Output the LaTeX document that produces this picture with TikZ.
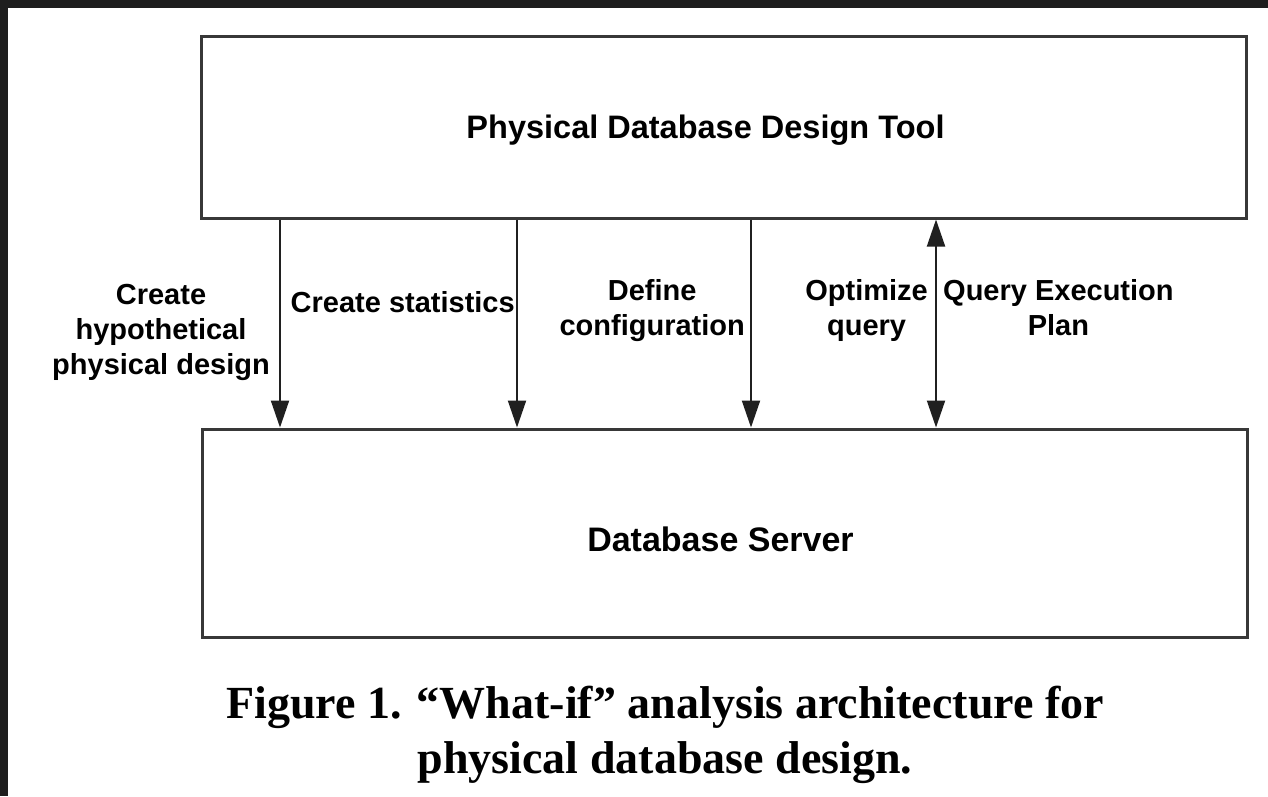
\documentclass[tikz,border=0pt]{standalone}
\usepackage{fontspec}
\newfontfamily\diagsans{Liberation Sans}
\newfontfamily\diagserif{Liberation Serif}
\usetikzlibrary{arrows.meta}
\definecolor{framedark}{HTML}{1E1E1E}
\definecolor{boxline}{HTML}{383838}
\definecolor{flowline}{HTML}{202020}
\begin{document}
\begin{tikzpicture}[x=1pt,y=-1pt,
  box/.style={draw=boxline, line width=3pt, inner sep=0pt, minimum width=1045pt},
  boxtitle/.style={inner sep=0pt, anchor=base, font=\diagsans\bfseries\fontsize{32.5pt}{38pt}\selectfont},
  lbl/.style={align=center, inner sep=0pt, font=\diagsans\bfseries\fontsize{29pt}{35pt}\selectfont},
  flow/.style={draw=flowline, line width=2pt, -{Triangle[width=18pt,length=27pt]}},
  flowboth/.style={draw=flowline, line width=2pt, {Triangle[width=18pt,length=27pt]}-{Triangle[width=18pt,length=27pt]}},
  caption/.style={align=center, inner sep=0pt, font=\diagserif\bfseries\fontsize{46pt}{55pt}\selectfont}]

% page: dark frame along top and left, white sheet
\fill[framedark] (0,0) rectangle (1268,796);
\fill[white] (8,8) rectangle (1268,796);
\useasboundingbox (0,0) rectangle (1268,796);

% the two components
\node[box, minimum height=182pt] (tool) at (723.5,127) {};
\node[box, minimum height=208pt] (server) at (724.5,533) {};
\node[boxtitle] (tooltitle) at ([xshift=-18pt,yshift=-11pt]tool.center) {Physical Database Design Tool};
\node[boxtitle, font=\diagsans\bfseries\fontsize{34pt}{40pt}\selectfont] (servertitle) at ([xshift=-4pt,yshift=-18pt]server.center) {Database Server};

% x positions of the interface calls
\coordinate (c1) at (280,0);
\coordinate (c2) at (517,0);
\coordinate (c3) at (751,0);
\coordinate (c4) at (936,0);

\draw[flow] (c1 |- tool.south) -- (c1 |- server.north);
\draw[flow] (c2 |- tool.south) -- (c2 |- server.north);
\draw[flow] (c3 |- tool.south) -- (c3 |- server.north);
\draw[flowboth] (c4 |- tool.south) -- (c4 |- server.north);

% call labels
\node[lbl, anchor=north east] (l1) at ([xshift=-10pt]c1 |- 0,284) {Create\\hypothetical\\physical design};
\node[lbl, anchor=north east] (l2) at ([xshift=-2pt]c2 |- 0,291) {Create statistics};
\node[lbl, anchor=north east] (l3) at ([xshift=-6pt]c3 |- 0,279) {Define\\configuration};
\node[lbl, anchor=north east] (l4) at ([xshift=-8pt]c4 |- 0,279) {Optimize\\query};
\node[lbl, anchor=north west] (l5) at ([xshift=7pt]c4 |- 0,279) {Query Execution\\Plan};

% figure caption
\node[caption, anchor=north] (cap) at (665,686) {Figure 1. “What-if” analysis architecture for\\physical database design.};
\end{tikzpicture}
\end{document}
